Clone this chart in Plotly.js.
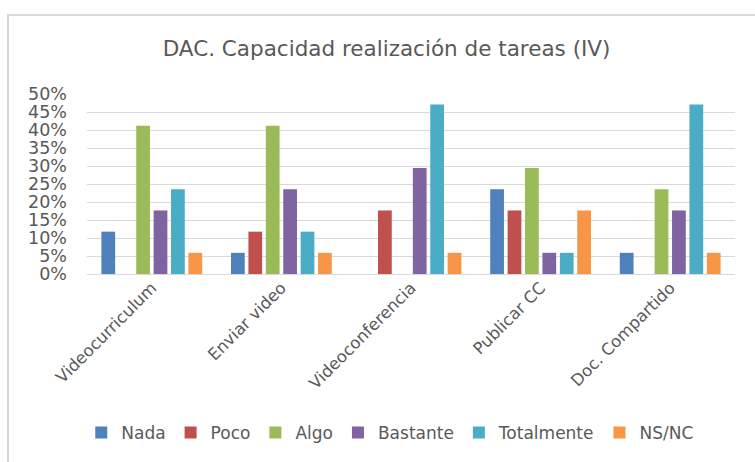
<!DOCTYPE html>
<html><head><meta charset="utf-8">
<script src="https://cdn.plot.ly/plotly-3.0.1.min.js"></script>
<style>
html,body{margin:0;padding:0;background:#fff;width:755px;height:462px;overflow:hidden;}
#frame{position:absolute;left:7px;top:14px;width:800px;height:500px;border-left:2px solid #d9d9d9;border-top:2px solid #d9d9d9;}
#chart{position:absolute;left:0;top:0;width:755px;height:462px;}
</style></head>
<body>
<div id="frame"></div>
<div id="chart"></div>
<script>
const categories = ["Videocurriculum", "Enviar video", "Videoconferencia", "Publicar CC", "Doc. Compartido"];
const seriesNames = ["Nada", "Poco", "Algo", "Bastante", "Totalmente", "NS/NC"];
const nada       = [0.1176, 0.0588, 0,      0.2353, 0.0588];
const poco       = [0,      0.1176, 0.1765, 0.1765, 0];
const algo       = [0.4118, 0.4118, 0,      0.2941, 0.2353];
const bastante   = [0.1765, 0.2353, 0.2941, 0.0588, 0.1765];
const totalmente = [0.2353, 0.1176, 0.4706, 0.0588, 0.4706];
const nsnc       = [0.0588, 0.0588, 0.0588, 0.1765, 0.0588];
const yTicks = [0, 0.05, 0.10, 0.15, 0.20, 0.25, 0.30, 0.35, 0.40, 0.45, 0.50];

const colors = ["#4F81BD", "#C0504D", "#9BBB59", "#8064A2", "#4BACC6", "#F79646"];
const values = [nada, poco, algo, bastante, totalmente, nsnc];
const font = "DejaVu Sans, Verdana, sans-serif";
const textColor = "#595959";

const data = values.map((v, i) => ({
  type: "bar", name: seriesNames[i], x: categories, y: v,
  marker: {color: colors[i]}, hoverinfo: "none"
}));

const layout = {
  width: 755, height: 462,
  margin: {l: 87, r: 20, t: 94, b: 187},
  paper_bgcolor: "rgba(0,0,0,0)", plot_bgcolor: "rgba(0,0,0,0)",
  font: {family: font, color: textColor},
  title: {text: "DAC. Capacidad realización de tareas (IV)", font: {family: font, size: 21.5, color: textColor},
          x: 0.512, xref: "container", xanchor: "center", y: 0.896, yref: "container", yanchor: "middle"},
  barmode: "group", bargap: 0.194, bargroupgap: 0.21,
  xaxis: {tickangle: -45, tickfont: {size: 16.5, color: textColor}, showgrid: false, showline: false, ticks: "", automargin: false},
  yaxis: {range: [0, 0.5], tickvals: yTicks, tickformat: ".0%", tickfont: {size: 17.5, color: textColor},
          showgrid: true, gridcolor: "#d9d9d9", gridwidth: 1, zeroline: true, zerolinecolor: "#d9d9d9", zerolinewidth: 1,
          showline: false, ticks: "", ticklabelstandoff: 19, automargin: false},
  showlegend: true,
  legend: {orientation: "h", x: 0.468, xanchor: "center", y: -0.873, yanchor: "middle",
           font: {size: 17, color: textColor}, itemwidth: 30, tracegroupgap: 0},
};
Plotly.newPlot("chart", data, layout, {displayModeBar: false, staticPlot: true});
</script>
</body></html>
